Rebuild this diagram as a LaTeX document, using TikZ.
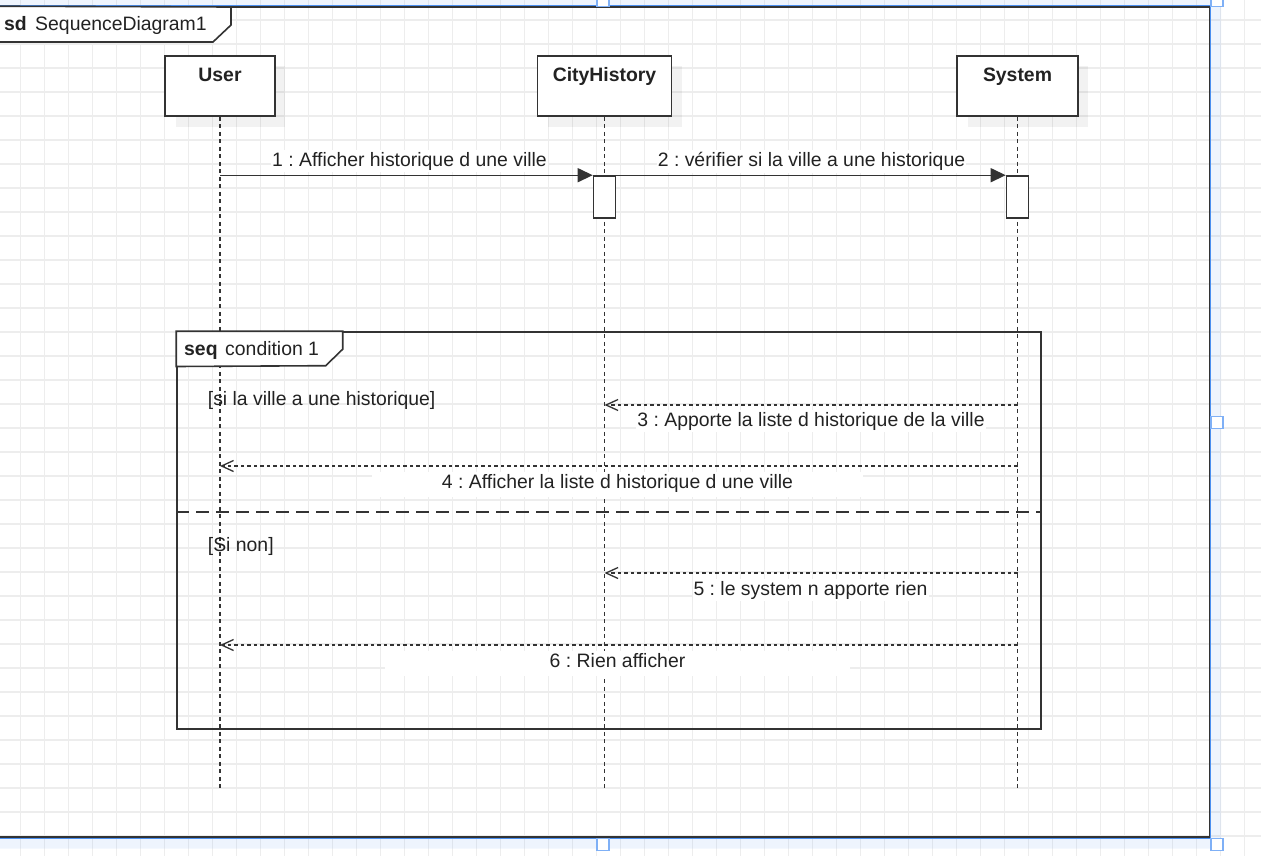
\documentclass[tikz,border=0pt]{standalone}
\usepackage{fontspec}
\setmainfont{Liberation Sans}
\usetikzlibrary{arrows.meta,shadows}
\frenchspacing

\definecolor{ink}{HTML}{333333}
\definecolor{txt}{HTML}{222222}
\definecolor{gridc}{HTML}{EDEDED}
\definecolor{selblue}{HTML}{4A8FF0}
\definecolor{handleblue}{HTML}{7FB0F6}

\tikzset{
  gridline/.style={draw=gridc, line width=1.1pt},
  umlframe/.style={draw=ink, line width=1.6pt, inner sep=0pt},
  tabshape/.style={draw=ink, line width=1.6pt, fill=white, line join=miter},
  headbox/.style={draw=ink, line width=1.6pt, fill=white, inner sep=0pt,
    text height=26pt, text depth=34.3pt, font=\fontsize{19.4}{23}\selectfont\bfseries,
    drop shadow={shadow xshift=10.5pt, shadow yshift=-10.5pt, opacity=0.05, fill=black}},
  actbox/.style={draw=ink, line width=1.6pt, fill=white, inner sep=0pt,
    minimum width=22pt, minimum height=42pt},
  lifeline/.style={draw=ink, line width=1.3pt, dash pattern=on 4pt off 3.5pt},
  callmsg/.style={draw=ink, line width=1.4pt, -{Triangle[length=15pt,width=14pt]}},
  replymsg/.style={draw=ink, line width=1.3pt, dash pattern=on 3.5pt off 3pt,
    -{Straight Barb[length=12pt,width=11pt,line width=1.3pt]}},
  divider/.style={draw=ink, line width=1.6pt, dash pattern=on 13pt off 7pt},
  msglabel/.style={anchor=base, fill=white, inner xsep=1pt, inner ysep=1pt,
    text height=15pt, text depth=5pt, text=txt},
  guard/.style={anchor=base west, inner sep=0pt, text=txt},
  handle/.style={draw=handleblue, line width=1.5pt, fill=white},
}

\begin{document}
\begin{tikzpicture}[x=1pt, y=-1pt, font=\fontsize{19.4}{23}\selectfont,
  every node/.append style={text=txt}]
\useasboundingbox (0,0) rectangle (1261,856);
\clip (0,0) rectangle (1261,856);
\fill[white] (0,0) rectangle (1261,856);

% background grid
\foreach \i in {0,...,51} \draw[gridline] (20.7+24*\i,0) -- (20.7+24*\i,856);
\foreach \j in {0,...,35} \draw[gridline] (0,20+24*\j) -- (1261,20+24*\j);

% selection band around the outer frame
\fill[selblue, opacity=0.09, even odd rule]
  (-25,-4.5) rectangle (1221,848.5) (-10,7) rectangle (1209.5,837);
\draw[selblue, line width=1.2pt] (-11.2,5.8) rectangle (1210.8,838.2);

% outer sd frame
\node[umlframe, minimum width=1219.5pt, minimum height=830pt] (sd) at (599.75,422) {};
\draw[tabshape] (sd.north west) -- (231,7) -- (231,25) -- (213,42) -- (sd.west |- 0,42) -- cycle;
\node[anchor=base west, inner sep=0pt] (sdtitle) at (4,31) {\textbf{sd}\hspace{8.4pt}SequenceDiagram1};

% lifeline heads
\node[headbox, minimum width=109.5pt] (user) at (220,86) {User};
\node[headbox, minimum width=134.3pt] (city) at (604.5,86) {CityHistory};
\node[headbox, minimum width=120.6pt] (sys)  at (1017.5,86) {System};

% y levels
\coordinate (lifeend) at (0,788);
\coordinate (r3) at (0,405);
\coordinate (r4) at (0,466);
\coordinate (dv) at (0,512);
\coordinate (r5) at (0,573);
\coordinate (r6) at (0,645);

% lifelines
\draw[lifeline] (user.south) -- (user.south |- lifeend);
\draw[lifeline] (city.south) -- (city.south |- lifeend);
\draw[lifeline] (sys.south)  -- (sys.south |- lifeend);

% combined fragment
\node[umlframe, minimum width=864pt, minimum height=397pt] (seq) at (609,530.5) {};
\draw[tabshape] (seq.north west) -- ++(166.5,0) -- ++(0,18) -- ++(-17,16.5) -- (seq.west |- 0,366.5) -- cycle;
\node[anchor=base west, inner sep=0pt] (seqtitle) at (184,355.7) {\textbf{seq}\hspace{7.6pt}condition 1};
\draw[divider] (seq.west |- dv) -- (seq.east |- dv);
\node[guard] (g1) at (207.7,405) {[si la ville a une historique]};
\node[guard] (g2) at (207.7,551) {[Si non]};

% activations
\node[actbox] (act1) at (city.south |- 0,197) {};
\node[actbox] (act2) at (sys.south |- 0,197) {};

% synchronous calls
\draw[callmsg] (user.south |- act1.north) -- (act1.north west);
\draw[callmsg] (act1.north east) -- (act2.north west);
\node[msglabel] (l1) at (409.5,166) {1 : Afficher historique d une ville};
\node[msglabel] (l2) at (811.5,166.5) {2 : vérifier si la ville a une historique};

% replies
\draw[replymsg] (sys.south |- r3) -- (city.south |- r3);
\draw[replymsg] (sys.south |- r4) -- (user.south |- r4);
\draw[replymsg] (sys.south |- r5) -- (city.south |- r5);
\draw[replymsg] (sys.south |- r6) -- (user.south |- r6);
\node[msglabel] (l3) at (811,426) {3 : Apporte la liste d historique de la ville};
\node[msglabel, minimum width=491pt, text depth=8pt] (l4) at (617.5,488) {4 : Afficher la liste d historique d une ville};
\node[msglabel] (l5) at (810.5,595) {5 : le system n apporte rien};
\node[msglabel, minimum width=465pt, text depth=8pt] (l6) at (617.5,667) {6 : Rien afficher};

% selection handles
\foreach \hx/\hy in {603/0.5, 1216.8/0.5, 1216.8/422.3, 603/844.5, 1216.8/844.5}
  \draw[handle] (\hx-6,\hy-6) rectangle (\hx+6,\hy+6);
\end{tikzpicture}
\end{document}
